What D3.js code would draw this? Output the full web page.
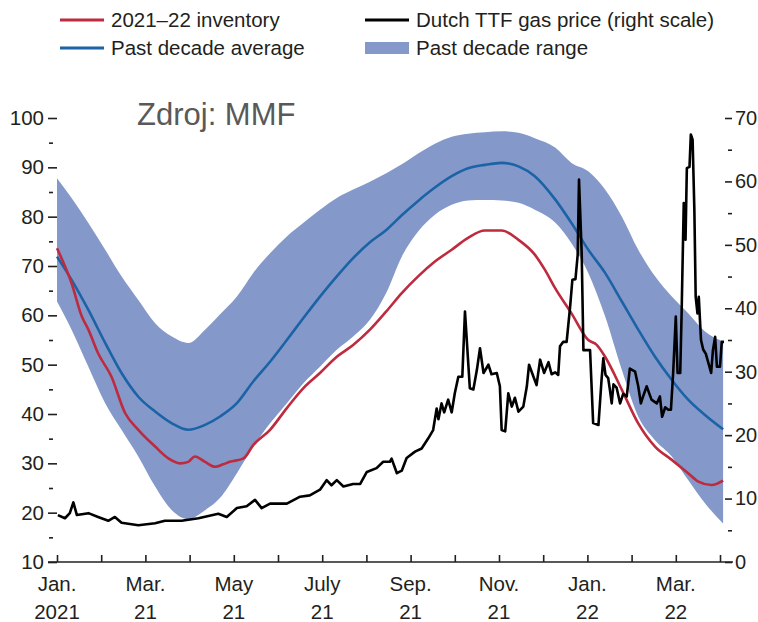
<!DOCTYPE html>
<html>
<head>
<meta charset="utf-8">
<script src="https://cdn.jsdelivr.net/npm/d3@7"></script>
<style>
	body { margin: 0; background: #fff; }
	text { font-family: "Liberation Sans", Arial, sans-serif; fill: #231f20; }
</style>
</head>
<body>
<div id="chart-area"></div>
<script>
// x positions are months since Jan. 2021
var bandMonths = [0, 0.33, 0.71, 1.09, 1.46, 1.84, 2.22, 2.6, 2.97, 3.35, 3.69, 4.07, 4.44, 4.82, 5.2, 5.57, 5.95, 6.33, 6.7, 7.08, 7.45, 7.8, 8.17, 8.55, 8.93, 9.3, 9.68, 10.06, 10.44, 10.81, 11.27, 11.64, 12.02, 12.4, 12.78, 13.15, 13.53, 13.91, 14.28, 14.66, 15.07];
var rangeHigh = [87.8, 83.8, 78.7, 73.3, 67.9, 63.1, 58.4, 55.7, 54.4, 57.1, 60.2, 63.8, 68.6, 72.6, 76.0, 78.7, 81.4, 83.8, 85.5, 87.1, 88.8, 90.6, 92.8, 94.8, 96.2, 96.8, 97.1, 97.3, 97.0, 95.9, 94.0, 90.9, 89.2, 85.5, 80.0, 73.3, 67.9, 63.8, 60.4, 56.7, 54.7];
var rangeLow = [62.8, 57.1, 49.6, 42.2, 36.8, 31.4, 25.3, 20.5, 18.7, 20.5, 23.0, 28.0, 33.4, 38.1, 42.2, 46.2, 49.6, 53.0, 55.7, 59.1, 64.6, 71.9, 77.0, 80.4, 82.4, 83.3, 83.4, 83.3, 82.8, 81.4, 78.8, 74.6, 68.6, 59.8, 48.9, 39.5, 34.7, 31.4, 26.6, 21.9, 17.8];
var decadeAvg = [71.9, 67.2, 61.1, 54.4, 48.3, 43.5, 40.5, 38.1, 36.8, 37.8, 39.5, 42.2, 46.6, 50.6, 55.0, 59.4, 63.8, 67.9, 71.6, 74.8, 77.3, 80.3, 83.2, 85.9, 88.2, 89.8, 90.5, 90.9, 90.2, 88.2, 83.5, 78.7, 73.3, 68.6, 62.8, 57.1, 51.6, 46.9, 42.9, 39.8, 36.9];

var invMonths = [0, 0.33, 0.56, 0.71, 0.93, 1.23, 1.54, 1.84, 2.22, 2.52, 2.78, 2.97, 3.12, 3.35, 3.58, 3.76, 3.91, 4.22, 4.44, 4.82, 5.2, 5.57, 5.95, 6.33, 6.7, 7.08, 7.45, 7.8, 8.17, 8.55, 8.93, 9.3, 9.68, 10.06, 10.44, 10.81, 11.04, 11.27, 11.64, 12.02, 12.21, 12.4, 12.78, 13.15, 13.53, 13.91, 14.28, 14.51, 14.81, 15.07];
var inventory = [73.6, 66.5, 59.8, 57.1, 52.3, 47.6, 40.2, 36.8, 33.4, 31.0, 30.0, 30.3, 31.4, 30.3, 29.3, 29.8, 30.3, 31.0, 33.7, 36.8, 41.2, 45.2, 48.3, 51.6, 54.0, 57.1, 60.8, 64.5, 67.9, 70.9, 73.3, 75.7, 77.2, 77.2, 75.3, 72.3, 69.2, 65.5, 60.4, 55.0, 54.0, 51.6, 44.9, 38.1, 33.4, 30.7, 28.0, 26.3, 25.6, 26.5];

var ttfMonths = [0.02, 0.18, 0.29, 0.37, 0.45, 0.71, 0.93, 1.16, 1.31, 1.46, 1.84, 2.22, 2.44, 2.82, 3.2, 3.65, 3.84, 4.07, 4.29, 4.48, 4.63, 4.82, 5.2, 5.5, 5.72, 5.95, 6.1, 6.21, 6.33, 6.48, 6.7, 6.86, 7.01, 7.23, 7.38, 7.53, 7.57, 7.69, 7.8, 7.91, 8.1, 8.25, 8.4, 8.51, 8.59, 8.63, 8.7, 8.76, 8.85, 8.93, 9.0, 9.08, 9.17, 9.23, 9.34, 9.42, 9.5, 9.57, 9.65, 9.76, 9.83, 9.95, 10.02, 10.06, 10.14, 10.21, 10.29, 10.36, 10.44, 10.55, 10.63, 10.68, 10.78, 10.85, 10.93, 11.02, 11.12, 11.19, 11.27, 11.34, 11.38, 11.45, 11.53, 11.61, 11.66, 11.73, 11.78, 11.81, 11.87, 11.91, 12.06, 12.13, 12.25, 12.32, 12.36, 12.41, 12.47, 12.51, 12.55, 12.59, 12.66, 12.74, 12.81, 12.89, 12.96, 13.08, 13.15, 13.21, 13.26, 13.34, 13.45, 13.57, 13.64, 13.69, 13.76, 13.83, 13.89, 13.94, 14.0, 14.04, 14.1, 14.13, 14.18, 14.22, 14.25, 14.31, 14.34, 14.38, 14.42, 14.45, 14.49, 14.52, 14.57, 14.62, 14.68, 14.74, 14.8, 14.84, 14.89, 14.93, 15.0, 15.04, 15.09];
var ttfPrice = [7.4, 6.9, 7.7, 9.4, 7.4, 7.7, 7.1, 6.5, 7.1, 6.2, 5.8, 6.1, 6.5, 6.5, 6.9, 7.6, 7.1, 8.5, 8.8, 9.8, 8.5, 9.2, 9.2, 10.3, 10.5, 11.4, 12.9, 12.1, 12.9, 11.9, 12.3, 12.3, 14.2, 14.8, 15.8, 15.8, 16.3, 14.0, 14.4, 16.4, 17.4, 17.9, 19.5, 20.8, 24.2, 22.5, 25.0, 23.6, 25.6, 23.6, 26.6, 29.2, 29.2, 39.5, 27.4, 27.2, 30.3, 33.7, 29.8, 31.1, 29.6, 29.8, 27.7, 20.8, 20.6, 26.6, 24.5, 25.9, 23.7, 24.5, 27.7, 31.1, 29.2, 27.9, 31.9, 29.8, 31.5, 29.6, 29.9, 29.5, 34.0, 34.7, 34.7, 40.3, 44.5, 44.6, 48.4, 60.3, 48.9, 33.4, 33.4, 21.9, 21.6, 28.7, 32.1, 29.5, 29.0, 27.1, 25.0, 28.0, 27.5, 25.0, 26.5, 26.1, 30.5, 30.0, 27.7, 25.0, 26.1, 27.7, 25.6, 25.0, 26.1, 22.9, 24.4, 24.0, 24.0, 29.8, 38.7, 29.8, 29.8, 38.7, 56.6, 50.8, 62.1, 62.3, 67.4, 66.6, 55.5, 41.8, 39.2, 41.8, 35.0, 33.5, 32.8, 31.3, 29.8, 33.4, 35.5, 30.8, 30.8, 34.7, 34.7];

var monthLabels = ["Jan.", "Mar.", "May", "July", "Sep.", "Nov.", "Jan.", "Mar."];
var yearLabels = ["2021", "21", "21", "21", "21", "21", "22", "22"];
var leftTicks = [10, 20, 30, 40, 50, 60, 70, 80, 90, 100];
var rightTicks = [0, 10, 20, 30, 40, 50, 60, 70];

var width = 758;
var height = 622;

var red = "#be2a3e";
var blue = "#1b63a6";
var band = "#8499c9";

var svg = d3.select("#chart-area")
.append("svg")
	.attr("width", width)
	.attr("height", height);

	// scales
var x = d3.scaleLinear()
	.domain([0, 15])
	.range([57, 720]);

var yLeft = d3.scaleLinear()
	.domain([10, 100])
	.range([562, 118]);

var yRight = d3.scaleLinear()
	.domain([0, 70])
	.range([562, 118]);

	// range band
var bandData = bandMonths.map(function(m, i){
	return {m: m, lo: rangeLow[i], hi: rangeHigh[i], avg: decadeAvg[i]};
});

var area = d3.area()
	.x(function(d){ return x(d.m); })
	.y0(function(d){ return yLeft(d.lo); })
	.y1(function(d){ return yLeft(d.hi); })
	.curve(d3.curveMonotoneX);

svg.append("path")
	.datum(bandData)
	.attr("fill", band)
	.attr("d", area);

	// decade average
var avgLine = d3.line()
	.x(function(d){ return x(d.m); })
	.y(function(d){ return yLeft(d.avg); })
	.curve(d3.curveMonotoneX);

svg.append("path")
	.datum(bandData)
	.attr("fill", "none")
	.attr("stroke", blue)
	.attr("stroke-width", 2.6)
	.attr("d", avgLine);

	// inventory
var invData = invMonths.map(function(m, i){ return {m: m, v: inventory[i]}; });

svg.append("path")
	.datum(invData)
	.attr("fill", "none")
	.attr("stroke", red)
	.attr("stroke-width", 2.6)
	.attr("d", d3.line()
		.x(function(d){ return x(d.m); })
		.y(function(d){ return yLeft(d.v); })
		.curve(d3.curveMonotoneX));

	// TTF price, right scale
var ttfData = ttfMonths.map(function(m, i){ return {m: m, v: ttfPrice[i]}; });

svg.append("path")
	.datum(ttfData)
	.attr("fill", "none")
	.attr("stroke", "#000")
	.attr("stroke-width", 2.6)
	.attr("stroke-linejoin", "round")
	.attr("d", d3.line()
		.x(function(d){ return x(d.m); })
		.y(function(d){ return yRight(d.v); }));

	// left axis
var leftAxis = svg.append("g")
	.attr("transform", "translate(57,0)")
	.call(d3.axisLeft(yLeft).tickValues(leftTicks).tickSize(9).tickPadding(4));

var leftMinor = svg.append("g")
	.attr("transform", "translate(53,0)")
	.call(d3.axisLeft(yLeft).tickValues(d3.range(15, 100, 10)).tickSize(4).tickFormat(""));

	// right axis
var rightAxis = svg.append("g")
	.attr("transform", "translate(725,0)")
	.call(d3.axisRight(yRight).tickValues(rightTicks).tickSize(7).tickPadding(3));

var rightMinor = svg.append("g")
	.attr("transform", "translate(728,0)")
	.call(d3.axisRight(yRight).tickValues(d3.range(5, 70, 10)).tickSize(4).tickFormat(""));

	// bottom axis
svg.append("line")
	.attr("x1", 48)
	.attr("x2", 733)
	.attr("y1", 562)
	.attr("y2", 562)
	.attr("stroke", "#231f20")
	.attr("stroke-width", 1.5);

var bottomAxis = svg.append("g")
	.attr("transform", "translate(0,562)")
	.call(d3.axisBottom(x).tickValues(d3.range(0, 16)).tickSize(-7).tickFormat(""));

svg.selectAll(".domain").remove();
svg.selectAll(".tick line")
	.attr("stroke", "#231f20")
	.attr("stroke-width", 1.6);
svg.selectAll(".tick text")
	.attr("font-size", "20.5px")
	.attr("fill", "#231f20");
rightAxis.selectAll(".tick text")
	.attr("font-size", "20px");

monthLabels.forEach(function(label, i){
	var t = svg.append("text")
		.attr("x", x(i * 2))
		.attr("text-anchor", "middle")
		.attr("font-size", "20.5px");
	t.append("tspan")
		.attr("x", x(i * 2))
		.attr("y", 591)
		.text(label);
	t.append("tspan")
		.attr("x", x(i * 2))
		.attr("y", 619)
		.text(yearLabels[i]);
});

	// source note
svg.append("text")
	.attr("x", 137)
	.attr("y", 125)
	.attr("font-size", "31px")
	.style("fill", "#595959")
	.text("Zdroj: MMF");

	// legend
var legendItems = [
	{label: "2021\u201322 inventory", color: red, x: 60, y: 20, type: "line"},
	{label: "Dutch TTF gas price (right scale)", color: "#000", x: 365, y: 20, type: "line"},
	{label: "Past decade average", color: blue, x: 60, y: 48, type: "line"},
	{label: "Past decade range", color: band, x: 365, y: 48, type: "rect"}
];

legendItems.forEach(function(item){
	var row = svg.append("g")
		.attr("transform", "translate(" + item.x + "," + item.y + ")");

	if (item.type == "line") {
		row.append("line")
			.attr("x1", 0)
			.attr("x2", 44)
			.attr("stroke", item.color)
			.attr("stroke-width", 3);
	} else {
		row.append("rect")
			.attr("y", -6)
			.attr("width", 44)
			.attr("height", 12)
			.attr("fill", item.color);
	}

	row.append("text")
		.attr("x", 51)
		.attr("dy", "0.35em")
		.attr("font-size", "20.5px")
		.text(item.label);
});
</script>
</body>
</html>
